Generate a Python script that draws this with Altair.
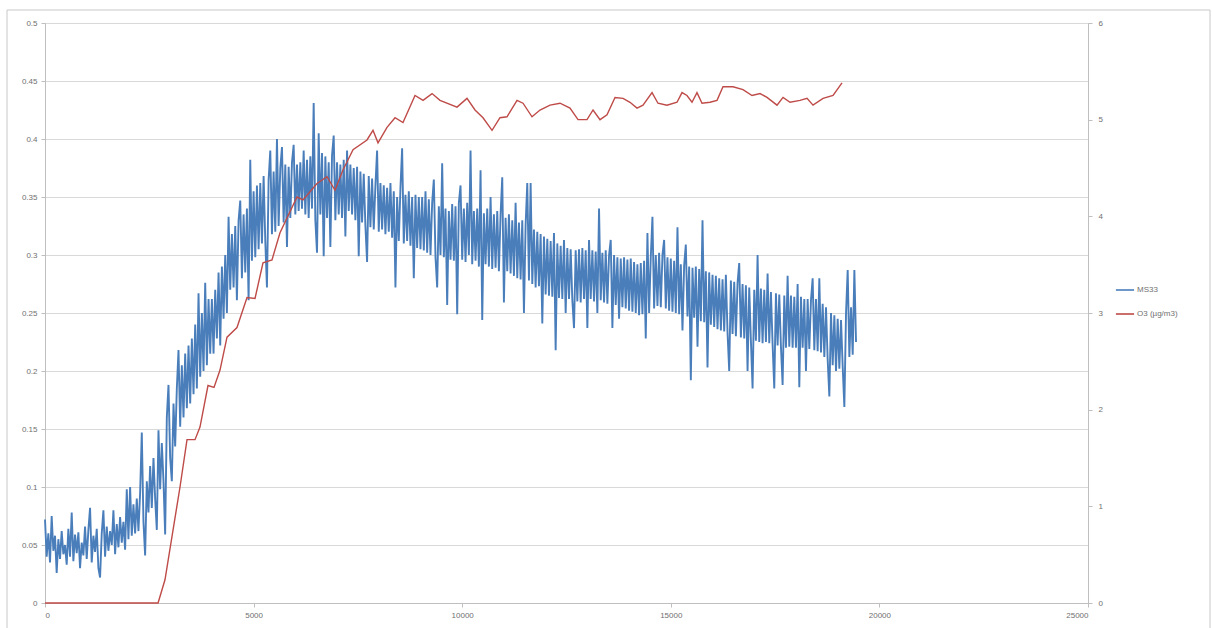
import altair as alt
import pandas as pd

# MS33 signal (left axis), one sample every 40 time units starting at 0
ms33_step = 40
ms33 = [
    # 0 - 960
    0.072, 0.040, 0.060, 0.035, 0.075, 0.045, 0.058, 0.026, 0.055, 0.038,
    0.062, 0.042, 0.050, 0.033, 0.064, 0.040, 0.078, 0.036, 0.059, 0.043,
    0.061, 0.030, 0.052, 0.041, 0.066,
    # 1000 - 1960
    0.038, 0.063, 0.082, 0.035, 0.058, 0.044, 0.064, 0.030, 0.022, 0.060,
    0.080, 0.040, 0.066, 0.045, 0.062, 0.050, 0.080, 0.042, 0.068, 0.048,
    0.074, 0.052, 0.070, 0.046, 0.098,
    # 2000 - 2960
    0.055, 0.100, 0.058, 0.085, 0.060, 0.090, 0.062, 0.095, 0.147, 0.070,
    0.041, 0.105, 0.078, 0.118, 0.082, 0.125, 0.090, 0.063, 0.149, 0.098,
    0.138, 0.105, 0.059, 0.160, 0.188,
    # 3000 - 3960
    0.125, 0.105, 0.172, 0.135, 0.185, 0.218, 0.152, 0.205, 0.160, 0.215,
    0.168, 0.222, 0.172, 0.228, 0.180, 0.240, 0.185, 0.267, 0.195, 0.250,
    0.200, 0.276, 0.205, 0.262, 0.215,
    # 4000 - 4960
    0.262, 0.215, 0.270, 0.228, 0.285, 0.222, 0.290, 0.245, 0.300, 0.250,
    0.333, 0.270, 0.318, 0.272, 0.325, 0.261, 0.330, 0.347, 0.280, 0.335,
    0.285, 0.340, 0.261, 0.382, 0.295,
    # 5000 - 5960
    0.355, 0.298, 0.360, 0.305, 0.362, 0.310, 0.368, 0.312, 0.272, 0.365,
    0.390, 0.318, 0.372, 0.320, 0.400, 0.325, 0.375, 0.393, 0.328, 0.378,
    0.307, 0.376, 0.332, 0.380, 0.395,
    # 6000 - 6960
    0.335, 0.378, 0.338, 0.380, 0.340, 0.390, 0.335, 0.382, 0.332, 0.385,
    0.340, 0.431, 0.330, 0.302, 0.405, 0.335, 0.388, 0.299, 0.385, 0.332,
    0.380, 0.307, 0.386, 0.403, 0.330,
    # 7000 - 7960
    0.380, 0.335, 0.378, 0.332, 0.382, 0.316, 0.390, 0.338, 0.378, 0.335,
    0.375, 0.330, 0.376, 0.299, 0.372, 0.328, 0.370, 0.325, 0.294, 0.368,
    0.324, 0.366, 0.322, 0.360, 0.390,
    # 8000 - 8960
    0.320, 0.362, 0.322, 0.360, 0.318, 0.358, 0.320, 0.362, 0.315, 0.355,
    0.272, 0.350, 0.312, 0.358, 0.392, 0.310, 0.352, 0.312, 0.355, 0.308,
    0.350, 0.280, 0.352, 0.306, 0.350,
    # 9000 - 9960
    0.305, 0.350, 0.304, 0.355, 0.302, 0.348, 0.300, 0.345, 0.365, 0.298,
    0.272, 0.342, 0.300, 0.379, 0.298, 0.340, 0.257, 0.338, 0.296, 0.344,
    0.295, 0.342, 0.249, 0.345, 0.360,
    # 10000 - 10960
    0.296, 0.340, 0.294, 0.345, 0.300, 0.390, 0.292, 0.338, 0.295, 0.340,
    0.290, 0.373, 0.244, 0.336, 0.292, 0.340, 0.290, 0.350, 0.288, 0.335,
    0.289, 0.338, 0.286, 0.335, 0.367,
    # 11000 - 11960
    0.259, 0.332, 0.286, 0.335, 0.284, 0.330, 0.282, 0.345, 0.280, 0.328,
    0.279, 0.330, 0.250, 0.326, 0.362, 0.278, 0.362, 0.275, 0.322, 0.272,
    0.320, 0.273, 0.318, 0.241, 0.316,
    # 12000 - 12960
    0.266, 0.314, 0.265, 0.312, 0.264, 0.319, 0.218, 0.310, 0.263, 0.308,
    0.262, 0.313, 0.250, 0.306, 0.262, 0.305, 0.261, 0.237, 0.304, 0.260,
    0.305, 0.259, 0.306, 0.262, 0.304,
    # 13000 - 13960
    0.237, 0.313, 0.262, 0.304, 0.260, 0.303, 0.250, 0.340, 0.261, 0.302,
    0.259, 0.304, 0.258, 0.300, 0.313, 0.237, 0.300, 0.257, 0.298, 0.245,
    0.297, 0.255, 0.298, 0.254, 0.296,
    # 14000 - 14960
    0.252, 0.297, 0.251, 0.294, 0.250, 0.292, 0.248, 0.293, 0.249, 0.295,
    0.228, 0.319, 0.250, 0.298, 0.333, 0.254, 0.300, 0.256, 0.302, 0.255,
    0.300, 0.313, 0.254, 0.298, 0.252,
    # 15000 - 15960
    0.297, 0.251, 0.295, 0.250, 0.324, 0.249, 0.292, 0.235, 0.291, 0.309,
    0.247, 0.290, 0.192, 0.289, 0.246, 0.290, 0.221, 0.288, 0.243, 0.330,
    0.242, 0.286, 0.203, 0.285, 0.240,
    # 16000 - 16960
    0.283, 0.238, 0.282, 0.236, 0.280, 0.235, 0.279, 0.234, 0.283, 0.233,
    0.200, 0.278, 0.232, 0.277, 0.230, 0.276, 0.293, 0.229, 0.275, 0.228,
    0.274, 0.200, 0.272, 0.226, 0.185,
    # 17000 - 17960
    0.270, 0.226, 0.300, 0.225, 0.271, 0.224, 0.270, 0.225, 0.284, 0.224,
    0.268, 0.223, 0.185, 0.267, 0.222, 0.266, 0.221, 0.188, 0.265, 0.220,
    0.282, 0.221, 0.265, 0.220, 0.264,
    # 18000 - 18960
    0.220, 0.275, 0.186, 0.264, 0.220, 0.262, 0.200, 0.262, 0.219, 0.261,
    0.280, 0.218, 0.262, 0.217, 0.280, 0.216, 0.258, 0.212, 0.255, 0.210,
    0.178, 0.250, 0.205, 0.248, 0.200,
    # 19000 - 19440
    0.245, 0.202, 0.244, 0.204, 0.169, 0.250, 0.287, 0.212, 0.255, 0.214,
    0.287, 0.225,
]

# O3 concentration (right axis)
o3_time = [
    0, 2710, 2876, 3236, 3404, 3596, 3715, 3907, 4051, 4195, 4363, 4602,
    4842, 5034, 5225, 5441, 5633, 6040, 6184, 6520, 6760, 6951, 7143, 7383,
    7718, 7862, 7982, 8198, 8390, 8581, 8869, 9061, 9277, 9468, 9876, 10115,
    10307, 10499, 10715, 10906, 11074, 11314, 11458, 11673, 11865, 12105,
    12345, 12584, 12776, 12992, 13136, 13303, 13471, 13663, 13855, 14022,
    14190, 14334, 14550, 14693, 14909, 15149, 15269, 15388, 15508, 15628,
    15748, 15940, 16108, 16251, 16491, 16731, 16947, 17139, 17306, 17546,
    17690, 17858, 18097, 18265, 18409, 18649, 18889, 19104,
]
o3_value = [
    0.0, 0.0, 0.24, 1.20, 1.69, 1.69, 1.82, 2.25, 2.23, 2.41, 2.75, 2.85,
    3.16, 3.15, 3.52, 3.55, 3.83, 4.20, 4.17, 4.34, 4.41, 4.27, 4.48, 4.69,
    4.79, 4.89, 4.76, 4.92, 5.02, 4.97, 5.25, 5.20, 5.27, 5.20, 5.13, 5.22,
    5.10, 5.02, 4.89, 5.02, 5.03, 5.20, 5.17, 5.03, 5.10, 5.15,
    5.17, 5.12, 5.00, 5.00, 5.10, 5.00, 5.05, 5.23, 5.22, 5.18,
    5.12, 5.15, 5.28, 5.17, 5.15, 5.18, 5.28, 5.25, 5.18, 5.28,
    5.17, 5.18, 5.20, 5.34, 5.34, 5.31, 5.25, 5.27, 5.23, 5.15,
    5.23, 5.18, 5.20, 5.22, 5.15, 5.22, 5.25, 5.38,
]

SERIES = ["MS33", "O3 (µg/m3)"]
COLORS = ["#4a7ebb", "#be4b48"]
LEFT_TICKS = [0, 0.05, 0.1, 0.15, 0.2, 0.25, 0.3, 0.35, 0.4, 0.45, 0.5]
RIGHT_TICKS = [0, 1, 2, 3, 4, 5, 6]
X_TICKS = [0, 5000, 10000, 15000, 20000, 25000]

ms33_df = pd.DataFrame({
    "t": [i * ms33_step for i in range(len(ms33))],
    "value": ms33,
    "series": SERIES[0],
})
o3_df = pd.DataFrame({"t": o3_time, "value": o3_value, "series": SERIES[1]})

FONT = "Liberation Sans"
LABEL_COLOR = "#707070"
AXIS_GRAY = "#bfbfbf"

x_enc = alt.X(
    "t:Q",
    scale=alt.Scale(domain=[0, 25000], nice=False, zero=False),
    axis=alt.Axis(
        values=X_TICKS, title=None, grid=False, format="d",
        labelFontSize=8, labelColor=LABEL_COLOR, labelFont=FONT,
        domainColor=AXIS_GRAY, tickColor=AXIS_GRAY, tickSize=4, labelPadding=4,
    ),
)

color_enc = alt.Color(
    "series:N",
    scale=alt.Scale(domain=SERIES, range=COLORS),
    legend=alt.Legend(
        title=None, orient="none", legendX=1070, legendY=257,
        symbolType="stroke", symbolStrokeWidth=1.6, symbolSize=330,
        labelFontSize=8, labelColor=LABEL_COLOR, labelFont=FONT,
        rowPadding=10, labelOffset=2,
    ),
)

ms33_line = alt.Chart(ms33_df).mark_line(strokeWidth=1.9).encode(
    x=x_enc,
    y=alt.Y(
        "value:Q",
        scale=alt.Scale(domain=[0, 0.5], nice=False),
        axis=alt.Axis(
            orient="left", values=LEFT_TICKS, title=None, format="~g",
            grid=True, gridColor="#d9d9d9", gridWidth=1,
            labelFontSize=8, labelColor=LABEL_COLOR, labelFont=FONT,
            domainColor=AXIS_GRAY, tickColor=AXIS_GRAY, tickSize=4, labelPadding=4,
        ),
    ),
    color=color_enc,
)

o3_line = alt.Chart(o3_df).mark_line(strokeWidth=1.4).encode(
    x=x_enc,
    y=alt.Y(
        "value:Q",
        scale=alt.Scale(domain=[0, 6], nice=False),
        axis=alt.Axis(
            orient="right", values=RIGHT_TICKS, title=None, grid=False,
            labelFontSize=8, labelColor=LABEL_COLOR, labelFont=FONT,
            domainColor=AXIS_GRAY, tickColor=AXIS_GRAY, tickSize=4, labelPadding=6,
        ),
    ),
    color=color_enc,
)

# thin frame around the whole chart area
frame = alt.Chart(pd.DataFrame({"k": [0]})).mark_rect(
    fill=None, stroke="#c8c8c8", strokeWidth=1
).encode(
    x=alt.value(-38), x2=alt.value(1165), y=alt.value(-13), y2=alt.value(640)
)

chart = (
    alt.layer(frame, ms33_line, o3_line)
    .resolve_scale(y="independent")
    .properties(
        width=1043, height=580,
        padding={"left": 45, "top": 23, "right": 124, "bottom": 25},
        autosize=alt.AutoSizeParams(type="none"),
        background="white",
    )
    .configure_view(stroke=AXIS_GRAY)
)

chart.save("out.html", embed_options={"renderer": "svg", "actions": False})
